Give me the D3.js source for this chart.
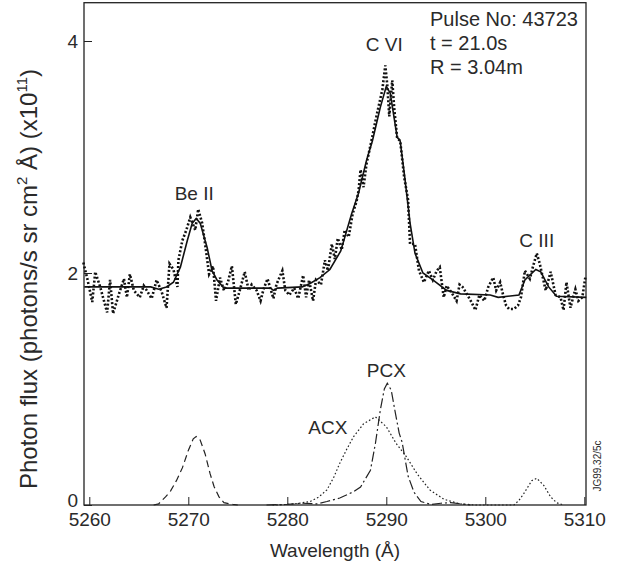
<!DOCTYPE html>
<meta charset="utf-8">
<style>
body { margin: 0; background: #fff; }
svg text { font-family: "Liberation Sans", Arial, sans-serif; fill: #2a2a2a; }
</style>
<body>
<div id="chart"></div>
<script src="https://d3js.org/d3.v7.min.js"></script>
<script>

var width = 621,
    height = 574;

// measured spectrum [wavelength (A), flux x1e11]
var measured = [
  [5259.4,2.09],[5259.8,1.95],[5260.3,1.75],[5260.6,2.01],[5261.1,1.88],[5261.8,1.66],
  [5262.1,1.94],[5262.4,1.65],[5263.0,1.82],[5263.5,1.95],[5263.8,1.79],[5264.1,1.99],
  [5264.5,1.85],[5264.8,1.82],[5265.1,1.79],[5265.5,1.89],[5265.8,1.85],[5266.3,1.78],
  [5266.8,1.94],[5267.3,1.84],[5267.8,1.70],[5268.1,2.08],[5268.5,2.03],[5268.9,1.88],
  [5269.0,2.11],[5269.4,2.28],[5269.8,2.37],[5270.2,2.48],[5270.7,2.37],[5271.0,2.55],
  [5271.4,2.43],[5271.7,2.25],[5272.1,1.99],[5272.5,2.06],[5272.8,1.76],[5273.2,1.96],
  [5273.6,1.85],[5274.0,1.92],[5274.4,2.06],[5274.8,1.73],[5275.2,1.85],[5275.7,2.01],
  [5276.1,1.85],[5276.4,1.90],[5276.9,1.85],[5277.3,1.76],[5277.6,1.86],[5278.0,1.95],
  [5278.6,1.78],[5278.9,1.90],[5279.5,2.02],[5279.8,1.85],[5280.2,1.81],[5280.7,1.87],
  [5281.1,1.78],[5281.6,1.98],[5281.9,1.79],[5282.2,1.94],[5282.6,1.76],[5282.9,1.94],
  [5283.4,1.90],[5283.8,2.11],[5284.1,2.02],[5284.5,2.25],[5284.8,2.12],[5285.1,2.30],
  [5285.5,2.20],[5285.8,2.37],[5286.2,2.31],[5286.6,2.51],[5287.0,2.62],[5287.2,2.71],
  [5287.4,2.89],[5287.7,2.74],[5288.0,2.94],[5288.5,3.14],[5289.0,3.35],[5289.6,3.58],
  [5289.9,3.79],[5290.1,3.62],[5290.3,3.35],[5290.6,3.66],[5290.8,3.42],[5291.1,3.16],
  [5291.4,3.14],[5291.8,2.83],[5292.2,2.63],[5292.4,2.25],[5292.9,2.25],[5293.3,2.02],
  [5293.8,1.92],[5294.3,2.02],[5294.7,1.94],[5295.1,2.02],[5295.4,2.05],[5295.8,1.79],
  [5296.1,1.89],[5296.6,1.83],[5297.1,1.76],[5297.4,1.90],[5297.7,1.88],[5298.2,1.81],
  [5298.6,1.75],[5299.0,1.68],[5299.4,1.81],[5299.9,1.76],[5300.3,1.88],[5300.8,1.96],
  [5301.1,1.85],[5301.5,1.92],[5301.8,1.81],[5302.1,1.72],[5302.4,1.69],[5302.9,1.69],
  [5303.3,1.72],[5303.6,1.79],[5304.0,2.02],[5304.5,1.95],[5304.8,2.05],[5305.2,2.17],
  [5305.5,2.08],[5306.1,1.85],[5306.6,2.01],[5307.1,1.81],[5307.6,1.79],[5307.9,1.68],
  [5308.2,1.92],[5308.6,1.70],[5308.9,1.80],[5309.1,1.86],[5309.4,1.76],[5309.8,1.79],
  [5310.1,1.96]
];

// fitted spectrum
var fitted = [
  [5259.5,1.88],[5264.0,1.88],[5266.2,1.88],[5267.0,1.86],[5267.8,1.88],[5268.5,1.92],
  [5269.2,2.05],[5269.9,2.28],[5270.4,2.43],[5270.8,2.47],[5271.2,2.43],[5271.9,2.22],
  [5272.4,2.02],[5272.9,1.94],[5273.6,1.87],[5276.0,1.87],[5278.3,1.87],[5278.6,1.85],
  [5279.0,1.87],[5281.5,1.88],[5282.3,1.91],[5283.3,1.96],[5284.3,2.03],[5285.4,2.19],
  [5286.5,2.51],[5287.2,2.69],[5288.0,2.97],[5288.6,3.14],[5289.4,3.43],[5290.0,3.61],
  [5290.4,3.55],[5291.1,3.17],[5291.4,3.14],[5291.9,2.80],[5292.4,2.43],[5292.9,2.17],
  [5293.7,2.00],[5294.7,1.94],[5296.1,1.85],[5297.5,1.82],[5300.5,1.81],[5301.3,1.79],
  [5303.4,1.81],[5304.0,1.94],[5305.1,2.03],[5305.6,2.01],[5306.4,1.88],[5307.2,1.80],
  [5310.2,1.79]
];

// Be II component (dashed)
var beII = [
  [5266.5,0],[5267.0,0.01],[5267.7,0.07],[5268.2,0.12],[5268.8,0.21],[5269.4,0.32],
  [5270.0,0.47],[5270.5,0.57],[5270.8,0.59],[5271.2,0.56],[5271.7,0.44],[5272.2,0.27],
  [5272.6,0.16],[5273.1,0.07],[5273.6,0.02],[5274.5,0.005],[5275.0,0]
];

// ACX component + C III (dotted)
var acx = [
  [5278.5,0],[5280.0,0.005],[5281.2,0.015],[5282.3,0.03],[5283.2,0.07],[5284.0,0.13],
  [5284.7,0.24],[5285.3,0.36],[5286.0,0.48],[5286.7,0.59],[5287.7,0.70],[5288.9,0.76],
  [5290.0,0.675],[5291.0,0.53],[5292.0,0.42],[5293.1,0.27],[5294.4,0.13],[5295.8,0.05],
  [5297.4,0.01],[5299.0,0],[5302.9,0],[5303.4,0.04],[5303.9,0.10],[5304.7,0.21],
  [5305.2,0.23],[5305.9,0.17],[5306.6,0.07],[5307.2,0.02],[5307.9,0]
];

// PCX component (dash-dot)
var pcx = [
  [5277.9,0],[5280.0,0.005],[5281.5,0.015],[5283.0,0.01],[5284.0,0.03],[5285.3,0.06],
  [5286.7,0.115],[5287.4,0.155],[5288.4,0.30],[5288.9,0.53],[5289.4,0.82],[5289.8,1.00],
  [5290.1,1.05],[5290.5,0.99],[5290.9,0.80],[5291.3,0.62],[5291.6,0.54],[5292.2,0.25],
  [5292.8,0.11],[5293.5,0.03],[5294.5,0.005],[5295.5,0.015],[5296.5,0.02],[5297.5,0.01],
  [5298.5,0]
];

var xTicks = [5260, 5270, 5280, 5290, 5300, 5310];
var yTicks = [0, 2, 4];

var labels = [
  {text: "Be II", x: 5270.6, y: 2.63},
  {text: "C VI", x: 5289.8, y: 3.91},
  {text: "C III", x: 5305.2, y: 2.22},
  {text: "PCX", x: 5290.0, y: 1.10},
  {text: "ACX", x: 5284.1, y: 0.61}
];

var pulseInfo = ["Pulse No: 43723", "t = 21.0s", "R = 3.04m"];

var x = d3.scaleLinear().domain([5260, 5310]).range([89.3, 584.3]);
var y = d3.scaleLinear().domain([0, 4]).range([505, 41]);

var frame = {left: 84, right: 586, top: 2.7, bottom: 505};

var svg = d3.select("#chart").append("svg")
    .attr("width", width)
    .attr("height", height);

var line = d3.line()
    .x(function(d) { return x(d[0]); })
    .y(function(d) { return y(d[1]); });

// axes
var xAxis = svg.append("g")
    .attr("transform", "translate(0," + frame.bottom + ")")
    .call(d3.axisBottom(x).tickValues(xTicks).tickSize(-8).tickPadding(8).tickFormat(d3.format("d")));
var yAxis = svg.append("g")
    .attr("transform", "translate(" + frame.left + ",0)")
    .call(d3.axisLeft(y).tickValues(yTicks).tickSize(-8).tickPadding(6).tickFormat(d3.format("d")));

[xAxis, yAxis].forEach(function(g) {
    g.select(".domain").remove();
    g.selectAll(".tick line").attr("stroke", "#222").attr("stroke-width", 1);
    g.selectAll(".tick text").attr("font-size", 19).style("font-family", '"Liberation Sans", Arial, sans-serif').attr("fill", "#2a2a2a");
});
// the "0" sits a little above its tick in the original
yAxis.selectAll(".tick text").filter(function(d) { return d === 0; }).attr("y", -5);

svg.append("rect")
    .attr("x", frame.left)
    .attr("y", frame.top)
    .attr("width", frame.right - frame.left)
    .attr("height", frame.bottom - frame.top)
    .attr("fill", "none")
    .attr("stroke", "#222")
    .attr("stroke-width", 1.3);

// components
svg.append("path").datum(beII)
    .attr("d", line).attr("fill", "none").attr("stroke", "#222")
    .attr("stroke-width", 1.2).attr("stroke-dasharray", "7,4");
svg.append("path").datum(acx)
    .attr("d", line).attr("fill", "none").attr("stroke", "#222")
    .attr("stroke-width", 1.2).attr("stroke-dasharray", "1.6,2.2");
svg.append("path").datum(pcx)
    .attr("d", line).attr("fill", "none").attr("stroke", "#222")
    .attr("stroke-width", 1.2).attr("stroke-dasharray", "10,3,2,3");

// spectra
svg.append("path").datum(measured)
    .attr("d", line).attr("fill", "none").attr("stroke", "#111")
    .attr("stroke-width", 2.6).attr("stroke-dasharray", "2,2");
svg.append("path").datum(fitted)
    .attr("d", line).attr("fill", "none").attr("stroke", "#111")
    .attr("stroke-width", 1.6);

// line labels
svg.selectAll(".lbl").data(labels).enter().append("text")
    .attr("class", "lbl")
    .attr("x", function(d) { return x(d.x); })
    .attr("y", function(d) { return y(d.y); })
    .attr("text-anchor", "middle")
    .attr("font-size", 19)
    .text(function(d) { return d.text; });

// pulse info
svg.selectAll(".info").data(pulseInfo).enter().append("text")
    .attr("class", "info")
    .attr("x", 430)
    .attr("y", function(d, i) { return 26 + i * 24; })
    .attr("font-size", 20)
    .text(function(d) { return d; });

// axis titles
svg.append("text")
    .attr("x", (frame.left + frame.right) / 2)
    .attr("y", 557)
    .attr("text-anchor", "middle")
    .attr("font-size", 19)
    .text("Wavelength (Å)");

var yt = svg.append("text")
    .attr("transform", "translate(37,279) rotate(-90)")
    .attr("text-anchor", "middle")
    .attr("font-size", 24);
yt.append("tspan").text("Photon flux (photons/s sr cm");
yt.append("tspan").attr("font-size", 15).attr("dy", -10).text("2");
yt.append("tspan").attr("dy", 10).text(" Å) (x10");
yt.append("tspan").attr("font-size", 15).attr("dy", -10).text("11");
yt.append("tspan").attr("dy", 10).text(")");

svg.append("text")
    .attr("transform", "translate(601,466) rotate(-90)")
    .attr("text-anchor", "middle")
    .attr("font-size", 10)
    .text("JG99.32/5c");

</script>
</body>
